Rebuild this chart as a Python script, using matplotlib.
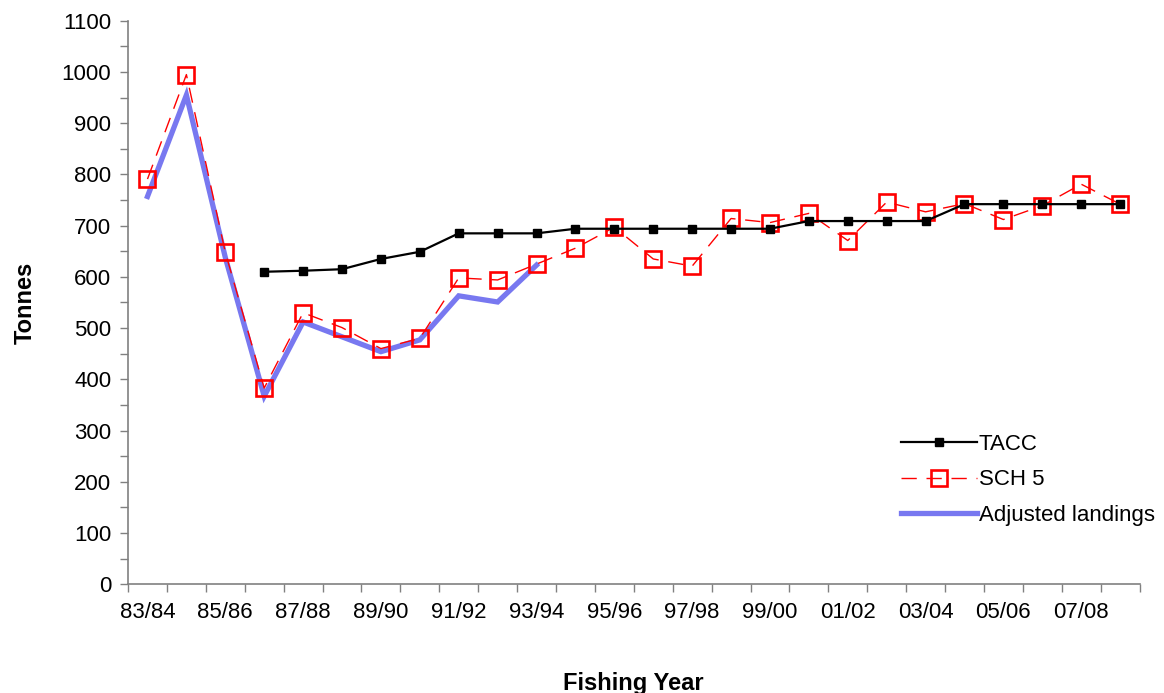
import numpy as np
import matplotlib.pyplot as plt
from matplotlib.ticker import MultipleLocator, FixedLocator, NullFormatter

plt.rcParams["font.family"] = ["Liberation Sans", "DejaVu Sans"]

# ── Data ──────────────────────────────────────────────────────────────────────
years = ["83/84", "84/85", "85/86", "86/87", "87/88", "88/89", "89/90", "90/91",
         "91/92", "92/93", "93/94", "94/95", "95/96", "96/97", "97/98", "98/99",
         "99/00", "00/01", "01/02", "02/03", "03/04", "04/05", "05/06", "06/07",
         "07/08", "08/09"]

# TACC starts in 86/87
tacc = [None, None, None, 610, 612, 615, 635, 649, 685, 685, 685, 694, 694,
        694, 694, 694, 694, 709, 709, 709, 709, 742, 742, 742, 742, 742]

sch5 = [791, 995, 648, 383, 530, 501, 460, 480, 598, 594, 625, 656, 697, 635,
        621, 714, 706, 724, 671, 746, 727, 743, 712, 739, 781, 742]

# adjusted landings only available to 93/94
adjusted = [757, 955, 638, 367, 512, 483, 454, 477, 563, 551, 623]

x = np.arange(len(years))
tacc_arr = np.array([np.nan if v is None else v for v in tacc], dtype=float)

fig = plt.figure(figsize=(11.64, 6.93), dpi=100)
ax = fig.add_axes([0.110, 0.157, 0.869, 0.813])

ax.plot(x[:len(adjusted)], adjusted, color="#7878f0", lw=3.8,
        solid_joinstyle="miter", label="Adjusted landings", zorder=2)
ax.plot(x, sch5, color="#ff0000", lw=1.0, dashes=(11, 7),
        marker="s", markersize=11.5, markerfacecolor="none",
        markeredgecolor="#ff0000", markeredgewidth=1.9,
        label="SCH 5", zorder=3)
ax.plot(x, tacc_arr, color="black", lw=1.6, marker="s", markersize=5.5,
        label="TACC", zorder=4)

# ── Axes styling (category axis, ticks between categories) ───────────────────
ax.set_xlim(-0.5, len(years) - 0.5)
ax.set_ylim(0, 1100)

ax.xaxis.set_major_locator(FixedLocator(np.arange(-0.5, len(years), 1.0)))
ax.xaxis.set_major_formatter(NullFormatter())
ax.xaxis.set_minor_locator(FixedLocator(x[::2]))
ax.set_xticklabels(years[::2], minor=True)
ax.tick_params(axis="x", which="major", direction="out", length=6,
               width=1, color="#808080")
ax.tick_params(axis="x", which="minor", length=0, labelsize=16, pad=13)

ax.yaxis.set_major_locator(MultipleLocator(100))
ax.yaxis.set_minor_locator(MultipleLocator(50))
ax.tick_params(axis="y", which="both", direction="out", length=6,
               width=1, color="#808080", labelsize=16, pad=6)

for side in ("top", "right"):
    ax.spines[side].set_visible(False)
for side in ("left", "bottom"):
    ax.spines[side].set_color("#808080")
    ax.spines[side].set_linewidth(1.2)

ax.set_ylabel("Tonnes", fontsize=17, fontweight="bold", labelpad=18)
ax.set_xlabel("Fishing Year", fontsize=17, fontweight="bold", labelpad=35)

handles, labels = ax.get_legend_handles_labels()
order = [2, 1, 0]
ax.legend([handles[i] for i in order], [labels[i] for i in order],
          loc="lower right", bbox_to_anchor=(1.035, 0.068), frameon=False,
          fontsize=16, handlelength=3.4, handletextpad=0.1,
          labelspacing=0.65)

fig.savefig("out.png", dpi=100)
